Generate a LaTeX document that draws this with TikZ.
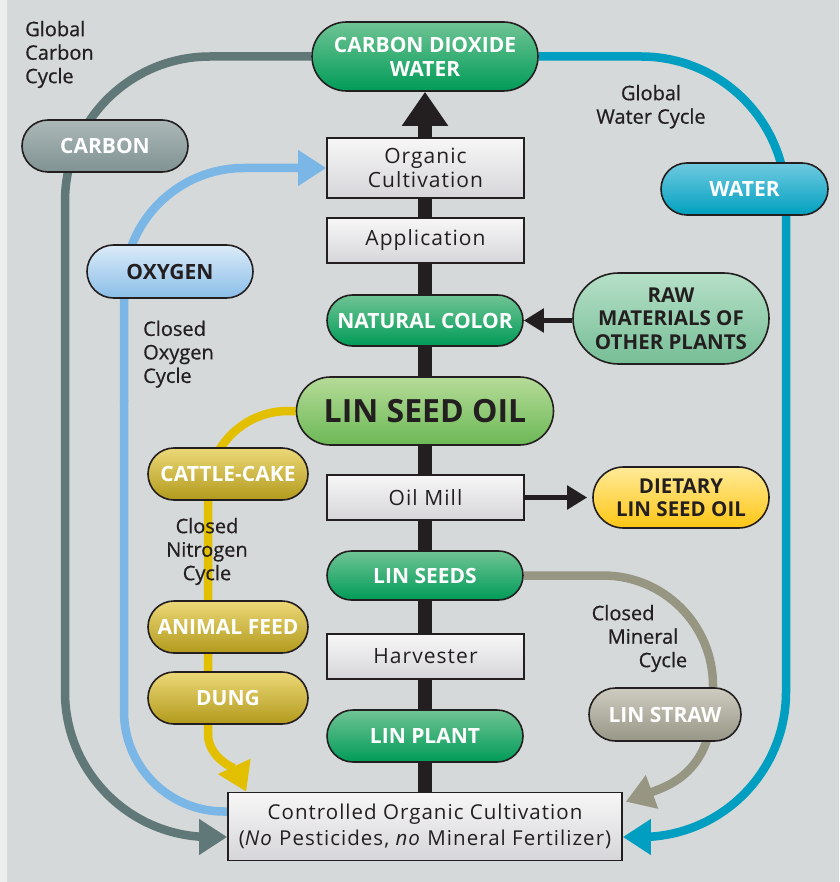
\documentclass[tikz,border=0pt]{standalone}
\usepackage{fontspec}
\setmainfont{Open Sans}
\newfontfamily\spaced[LetterSpace=5]{Open Sans}
\newfontfamily\medfont[FakeBold=0.6]{Open Sans}
\usetikzlibrary{shapes.misc,arrows.meta}
\definecolor{ink}{RGB}{35,31,32}
\definecolor{bgc}{RGB}{214,217,217}
\definecolor{bgl}{RGB}{236,238,238}
\definecolor{grT}{RGB}{112,196,148}\definecolor{grB}{RGB}{0,155,88}
\definecolor{rawT}{RGB}{182,224,200}\definecolor{rawB}{RGB}{118,190,150}
\definecolor{lsoT}{RGB}{182,220,152}\definecolor{lsoB}{RGB}{108,184,86}
\definecolor{dietT}{RGB}{255,234,152}\definecolor{dietB}{RGB}{255,198,20}
\definecolor{carT}{RGB}{172,184,184}\definecolor{carB}{RGB}{128,146,146}
\definecolor{oxT}{RGB}{220,235,249}\definecolor{oxB}{RGB}{138,190,232}
\definecolor{waT}{RGB}{112,202,224}\definecolor{waB}{RGB}{0,160,192}
\definecolor{olT}{RGB}{236,216,120}\definecolor{olB}{RGB}{178,154,28}
\definecolor{stT}{RGB}{206,204,192}\definecolor{stB}{RGB}{152,150,134}
\definecolor{bxT}{RGB}{247,247,247}\definecolor{bxB}{RGB}{214,214,218}
\definecolor{carL}{RGB}{96,120,119}
\definecolor{waL}{RGB}{0,158,192}
\definecolor{oxL}{RGB}{122,182,230}
\definecolor{yeL}{RGB}{226,192,0}
\definecolor{miL}{RGB}{150,150,130}
\pgfdeclarelayer{backg}\pgfdeclarelayer{lines}
\pgfsetlayers{backg,lines,main}
\begin{document}
\begin{tikzpicture}[x=1pt,y=-1pt,
  sz/.style 2 args={minimum width=#1pt,minimum height=#2pt},
  pill/.style={rounded rectangle,draw=ink,line width=1.6pt,inner sep=0pt,align=center,
    font=\bfseries\fontsize{21}{24}\selectfont},
  gpill/.style={pill,top color=grT,bottom color=grB,text=white},
  opill/.style={pill,top color=olT,bottom color=olB,text=white},
  box/.style={rectangle,draw=ink,line width=1.6pt,inner sep=0pt,align=center,
    top color=bxT,bottom color=bxB,text=ink,font=\spaced\fontsize{21}{23.5}\selectfont},
  lbl/.style={text=ink,inner sep=0pt,font=\medfont\fontsize{20}{23.5}\selectfont},
  cyc/.style={line width=8.5pt,-{Triangle[length=28pt,width=34pt]}},
  cycn/.style={line width=8.5pt},
  blk/.style={draw=ink,line width=5pt,-{Triangle[length=20pt,width=23pt]}}
]
\useasboundingbox (0,0) rectangle (839,882);
\begin{pgfonlayer}{backg}
\fill[bgc] (0,0) rectangle (839,882);
\fill[bgl] (0,0) rectangle (7,882);
\end{pgfonlayer}

% central column
\node[gpill,sz={226}{69}] (co2) at (425,56.5) {CARBON DIOXIDE\\WATER};
\node[box,sz={197}{60}] (org) at (425.5,168) {Organic\\Cultivation};
\node[box,sz={197}{45}] (app) at (425.5,240.5) {Application};
\node[gpill,sz={196}{51}] (nat) at (425,320.5) {NATURAL COLOR};
\node[pill,sz={196}{91},top color=rawT,bottom color=rawB,text=ink,
  font=\bfseries\fontsize{20.5}{23.5}\selectfont] (raw) at (671,318.5) {RAW\\MATERIALS OF\\OTHER PLANTS};
\node[pill,sz={257}{68},top color=lsoT,bottom color=lsoB,text=ink,
  font=\bfseries\fontsize{32}{36}\selectfont] (lso) at (425,411) {LIN SEED OIL};
\node[box,sz={197}{45}] (mill) at (425.5,497.5) {Oil Mill};
\node[pill,sz={176}{61},top color=dietT,bottom color=dietB,text=ink,
  font=\bfseries\fontsize{20.5}{23.5}\selectfont] (diet) at (681,497.5) {DIETARY\\LIN SEED OIL};
\node[gpill,sz={196}{49}] (seeds) at (425,575.5) {LIN SEEDS};
\node[box,sz={197}{45}] (harv) at (425.5,656.5) {Harvester};
\node[gpill,sz={196}{52}] (plant) at (425,736) {LIN PLANT};
\node[box,sz={394}{68},font=\spaced\fontsize{20.5}{26}\selectfont] (base) at (425,826.5)
  {Controlled Organic Cultivation\\(\textit{No} Pesticides, \textit{no} Mineral Fertilizer)};

% side nodes
\node[pill,sz={166}{52},top color=carT,bottom color=carB,text=white] (carbon) at (105,146) {CARBON};
\node[pill,sz={166}{53},top color=oxT,bottom color=oxB,text=ink] (oxygen) at (170,271.5) {OXYGEN};
\node[pill,sz={167}{52},top color=waT,bottom color=waB,text=white] (water) at (744.5,189) {WATER};
\node[opill,sz={160}{52}] (cattle) at (228,474) {CATTLE-CAKE};
\node[opill,sz={160}{52}] (feed) at (228,627) {ANIMAL FEED};
\node[opill,sz={160}{52}] (dung) at (228,698) {DUNG};
\node[pill,sz={152}{53},top color=stT,bottom color=stB,text=white] (straw) at (665,714.5) {LIN STRAW};

% labels
\node[lbl,anchor=north west,align=left] (lgc) at (25,20.8) {Global\\Carbon\\Cycle};
\node[lbl,anchor=north,align=center] (lgw) at (651,84.8) {Global\\Water Cycle};
\node[lbl,anchor=north west,align=left] (lox) at (143,320.5) {Closed\\Oxygen\\Cycle};
\node[lbl,anchor=north,align=center] (lni) at (207,517.8) {Closed\\Nitrogen\\Cycle};
\node[lbl,anchor=north west,align=left] (lmi) at (591.5,604.8) {Closed\\\hspace*{16pt}Mineral\\\hspace*{47pt}Cycle};

\begin{pgfonlayer}{lines}
% spine
\draw[ink,line width=14pt,-{Triangle[length=34pt,width=44pt]}] (base.north) -- (co2.south);
% side arrows
\draw[blk] (raw.west |- nat.east) -- (nat.east);
\draw[blk,shorten >=5pt] (mill.east) -- (diet.west);
% global carbon cycle
\draw[carL,cyc,rounded corners=145pt] (co2.west) -- (65,56.5) -- (65,837) -- ([yshift=-10.5pt]base.west);
% global water cycle
\draw[waL,cyc,rounded corners=145pt] (co2.east) -- (786,56.5) -- (786,837) -- ([yshift=-10.5pt]base.east);
% oxygen cycle
\draw[oxL,cycn,rounded corners=100pt] ([yshift=15pt]base.west) -- (124,811.5) -- (124,400);
\draw[oxL,cyc,rounded corners=120pt] (124,401) -- (124,168) -- (org.west);
% nitrogen cycle
\draw[yeL,cycn,rounded corners=80pt] (lso.west) -- (208,411) -- (208,735);
\draw[yeL,cyc] (208,734) .. controls (208,758) and (236,770) .. ([xshift=19pt]base.north west);
% mineral cycle
\draw[miL,cycn,rounded corners=110pt] (seeds.east) -- (713,575.5) -- (713,700);
\draw[miL,cyc] (713,699) .. controls (713,772) and (668,786) .. ([xshift=3pt,yshift=-10pt]base.north east);
\end{pgfonlayer}
\end{tikzpicture}
\end{document}
